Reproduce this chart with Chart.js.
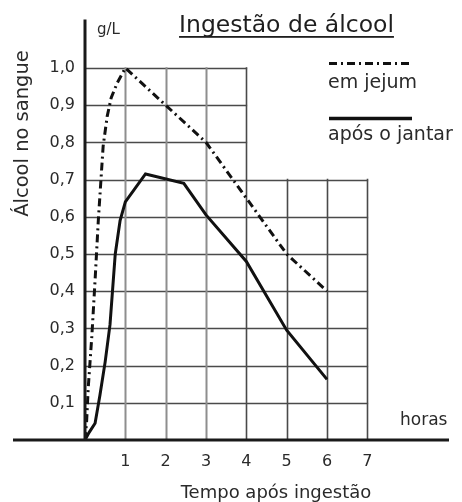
<!DOCTYPE html>
<html><head><meta charset="utf-8">
<script src="https://cdn.jsdelivr.net/npm/chart.js@4"></script>
<style>html,body{margin:0;padding:0;background:#fff}#c{display:block}</style>
</head><body>
<canvas id="c" width="462" height="502"></canvas>
<script>
// ---- data ----
const hoursJejum  = [0, 0.04, 0.08, 0.17, 0.25, 0.33, 0.45, 0.55, 0.65, 0.8, 1.0, 2, 3, 4, 5, 6];
const alcoolJejum = [0, 0.05, 0.14, 0.28, 0.43, 0.59, 0.79, 0.87, 0.92, 0.96, 1.0, 0.9, 0.8, 0.65, 0.5, 0.4];
const hoursJantar  = [0, 0.1, 0.25, 0.37, 0.5, 0.62, 0.75, 0.87, 1.0, 1.5, 2.45, 3.0, 4.0, 5.0, 6.0];
const alcoolJantar = [0, 0.02, 0.045, 0.12, 0.21, 0.31, 0.5, 0.59, 0.64, 0.715, 0.69, 0.605, 0.48, 0.295, 0.163];
const xTickValues = [1, 2, 3, 4, 5, 6, 7];
const yTickValues = [0.1, 0.2, 0.3, 0.4, 0.5, 0.6, 0.7, 0.8, 0.9, 1.0];
const seriesNames = ['em jejum', 'após o jantar'];
const chartTitle = 'Ingestão de álcool';
const yUnit = 'g/L';
const yTitle = 'Álcool no sangue';
const xUnit = 'horas';
const xTitle = 'Tempo após ingestão';
// grid extents (stepped grid)
const gridStepY = 0.7;   // above this, grid stops at gridNarrowX
const gridNarrowX = 4;
const gridWideX = 7;
const gridTopY = 1.0;

const FONT = '"DejaVu Sans", sans-serif';
const DASHDOT = [8, 4, 2, 4];
const TEXT = '#2a2a2a';

const toPts = (xs, ys) => xs.map((x, i) => ({x, y: ys[i]}));

const decor = {
  id: 'decor',
  beforeDatasetsDraw(chart) {
    const {ctx, scales: {x, y}} = chart;
    ctx.save();
    ctx.strokeStyle = '#4a4a4a';
    ctx.lineWidth = 1.6;
    yTickValues.forEach(v => {
      const xe = v > gridStepY + 1e-9 ? gridNarrowX : gridWideX;
      const py = Math.round(y.getPixelForValue(v)) + 0.5;
      ctx.beginPath();
      ctx.moveTo(x.getPixelForValue(0), py);
      ctx.lineTo(x.getPixelForValue(xe) + 0.8, py);
      ctx.stroke();
    });
    xTickValues.forEach(t => {
      const ye = t > gridNarrowX ? gridStepY : gridTopY;
      const px = Math.round(x.getPixelForValue(t)) + 0.5;
      ctx.strokeStyle = t < gridNarrowX ? '#8e8e8e' : '#4a4a4a';
      ctx.lineWidth = t < gridNarrowX ? 2 : 1.6;
      ctx.beginPath();
      ctx.moveTo(px, y.getPixelForValue(0));
      ctx.lineTo(px, y.getPixelForValue(ye) - 0.8);
      ctx.stroke();
    });
    ctx.restore();
  },
  afterDatasetsDraw(chart) {
    const {ctx, chartArea, scales: {x, y}} = chart;
    ctx.save();
    ctx.strokeStyle = '#1a1a1a';
    ctx.lineWidth = 3;
    const x0 = x.getPixelForValue(0);
    const y0 = y.getPixelForValue(0);
    ctx.beginPath();
    ctx.moveTo(x0, chartArea.top);
    ctx.lineTo(x0, y0);
    ctx.stroke();
    ctx.beginPath();
    ctx.moveTo(13, y0);
    ctx.lineTo(chartArea.right + 1, y0);
    ctx.stroke();

    ctx.fillStyle = '#1e1e1e';
    ctx.font = '23.5px ' + FONT;
    ctx.textAlign = 'center';
    ctx.textBaseline = 'alphabetic';
    const tx = 286.5;
    ctx.fillText(chartTitle, tx, 32);
    const tw = ctx.measureText(chartTitle).width;
    ctx.fillRect(tx - tw / 2, 36, tw, 1.8);

    ctx.fillStyle = TEXT;
    ctx.font = '15px ' + FONT;
    ctx.textAlign = 'left';
    ctx.fillText(yUnit, 97, 34);
    ctx.font = '17px ' + FONT;
    ctx.fillText(xUnit, 400, 425);
    ctx.font = '18px ' + FONT;
    ctx.textAlign = 'center';
    ctx.fillText(xTitle, 276, 498);
    ctx.save();
    ctx.translate(28, 133.5);
    ctx.rotate(-Math.PI / 2);
    ctx.font = '19.5px ' + FONT;
    ctx.textAlign = 'center';
    ctx.fillText(yTitle, 0, 0);
    ctx.restore();

    // legend
    ctx.strokeStyle = '#111';
    ctx.lineWidth = 3;
    ctx.setLineDash(DASHDOT);
    ctx.beginPath(); ctx.moveTo(329, 63.5); ctx.lineTo(412, 63.5); ctx.stroke();
    ctx.setLineDash([]);
    ctx.lineWidth = 3.5;
    ctx.beginPath(); ctx.moveTo(329, 118.5); ctx.lineTo(412, 118.5); ctx.stroke();
    ctx.font = '19px ' + FONT;
    ctx.textAlign = 'left';
    ctx.fillStyle = TEXT;
    ctx.fillText(seriesNames[0], 328, 87.5);
    ctx.fillText(seriesNames[1], 328, 140);
    ctx.restore();
  }
};

new Chart(document.getElementById('c'), {
  type: 'line',
  data: {
    datasets: [
      {label: seriesNames[0], data: toPts(hoursJejum, alcoolJejum), borderColor: '#111', borderWidth: 3,
       borderDash: DASHDOT, pointRadius: 0, tension: 0, fill: false},
      {label: seriesNames[1], data: toPts(hoursJantar, alcoolJantar), borderColor: '#111', borderWidth: 3,
       pointRadius: 0, tension: 0, fill: false}
    ]
  },
  options: {
    responsive: false,
    devicePixelRatio: 1,
    animation: false,
    layout: {padding: {top: 16, right: 14, left: 0, bottom: 0}},
    plugins: {legend: {display: false}, tooltip: {enabled: false}, title: {display: false}},
    scales: {
      x: {
        type: 'linear', min: 0, max: 9,
        grid: {display: false, drawTicks: false}, border: {display: false},
        afterBuildTicks: s => { s.ticks = xTickValues.map(v => ({value: v})); },
        afterFit: s => { s.height = 62; },
        ticks: {font: {family: FONT, size: 16}, color: TEXT, padding: 12, maxRotation: 0,
                callback: v => String(v)}
      },
      y: {
        type: 'linear', min: 0, max: 1.13,
        grid: {display: false, drawTicks: false}, border: {display: false},
        afterBuildTicks: s => { s.ticks = yTickValues.map(v => ({value: v})); },
        afterFit: s => { s.width = 85; },
        ticks: {font: {family: FONT, size: 16}, color: TEXT, padding: 10,
                callback: v => Number(v).toFixed(1).replace('.', ',')}
      }
    }
  },
  plugins: [decor]
});
</script>
</body></html>
